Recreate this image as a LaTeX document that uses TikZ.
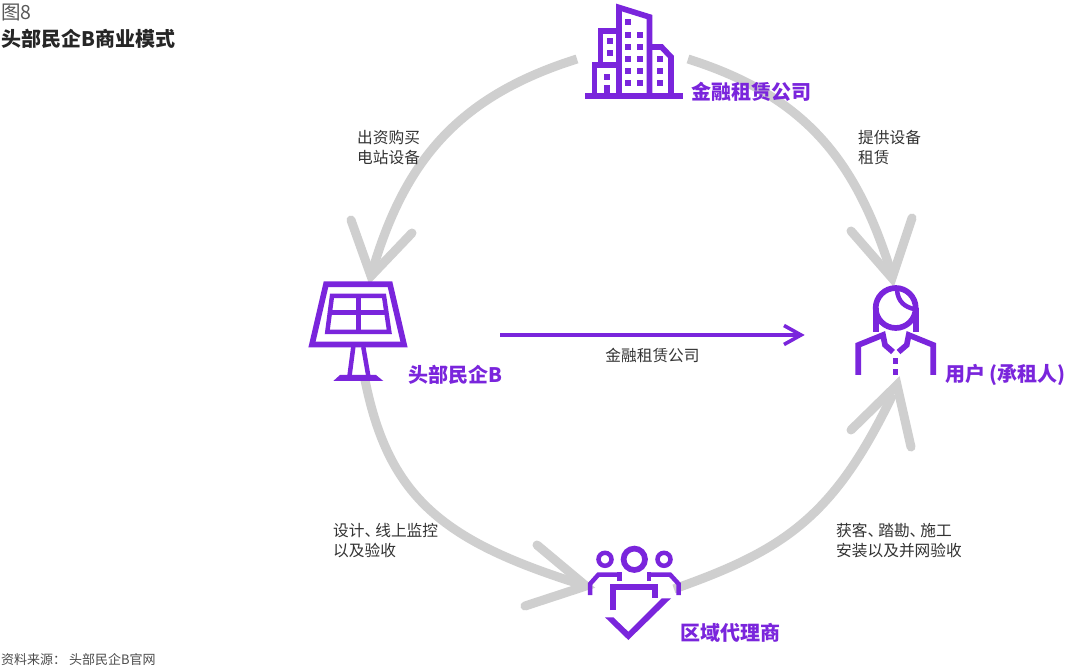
\documentclass[tikz,border=0pt]{standalone}
\usepackage{fontspec}
\setmainfont{Noto Sans CJK SC}
\usetikzlibrary{arrows.meta}
\definecolor{vio}{HTML}{7A25DC}
\definecolor{arcgray}{HTML}{CFCFCF}
\definecolor{txt}{HTML}{333333}
\tikzset{
 ring/.style={draw=arcgray,line width=9pt,line cap=round,line join=miter},
 ringarc/.style={draw=arcgray,line width=9pt,line cap=butt},
 ico/.style={draw=vio,line width=5.7pt,line join=miter},
 icothin/.style={draw=vio,line width=4.5pt},
 lab/.style={font=\fontsize{20}{20}\selectfont\bfseries,text=vio,inner sep=0pt,anchor=west},
 captext/.style={font=\fontsize{15.7}{20}\selectfont,text=txt,inner sep=0pt,anchor=north west,align=left},
 iconbox/.style={inner sep=0pt,draw=none}
}
\newcommand{\dun}{、\hspace{-5pt}}
\begin{document}
\begin{tikzpicture}[x=1pt,y=-1pt]
\useasboundingbox (0,0) rectangle (1080,668);
\fill[white] (0,0) rectangle (1080,668);
% named anchors of the cycle
\coordinate (finL) at (577,59);
\coordinate (finR) at (688,59);
\coordinate (panelT) at (371,276);
\coordinate (panelTa) at (372,272);
\coordinate (panelB) at (365,380);
\coordinate (userT) at (892,278);
\coordinate (userTa) at (891,272);
\coordinate (userB) at (893,394);
\coordinate (userTip) at (897,385);
\coordinate (agL) at (586,586);
\coordinate (agR) at (674,589);
\coordinate (b1a) at (351,220);\coordinate (b1b) at (412,233);
\coordinate (b2a) at (851,231);\coordinate (b2b) at (912,218);
\coordinate (b3a) at (537,545);\coordinate (b3b) at (525,606);
\coordinate (b4a) at (851,430);\coordinate (b4b) at (911,447);
% grey cycle
\draw[ringarc] (finL) .. controls (456,97) and (404,163) .. (panelTa);
\draw[ringarc] (finR) .. controls (808.6,97) and (857,164) .. (userTa);
\draw[ringarc] (panelB) .. controls (389,499) and (444,542) .. (agL);
\draw[ringarc] (agR) .. controls (784.5,550) and (834,517) .. (userB);
\draw[ring] (b1a) -- (panelT) -- (b1b);
\draw[ring] (b2a) -- (userT) -- (b2b);
\draw[ring] (b3a) -- (agL) -- (b3b);
\draw[ring] (b4a) -- (userTip) -- (b4b);
% building
\node[iconbox,minimum width=98pt,minimum height=95pt] (fin) at (634,52) {};
\fill[vio] (585,92.7) rectangle (683,99);
\draw[ico] (619,95) -- (619,7.5) -- (649.5,17) -- (649.5,95);
\draw[ico] (619,31) -- (600.5,31) -- (600.5,65) -- (619,65);
\draw[ico] (600.5,65) -- (594.5,65) -- (594.5,95);
\draw[ico] (649.5,47) -- (661.5,47) -- (671,57) -- (671,95);
\foreach \x/\y in {628/19.3,628/31.7,640/31.7,628/44,640/44,628/56,640/56,628/68.3,640/68.3,628/80,640/80,
 609.7/37.7,609.7/50,659.7/56,659.7/68.3,659.7/80.3,606.7/74,606.7/85,606.7/87}
 \fill[vio] (\x-3,\y) rectangle (\x+3,\y+6);
% panel
\node[iconbox,minimum width=98pt,minimum height=100pt] (panel) at (358,331) {};
\draw[ico] (326,284.3) -- (390,284.3) -- (404,344.5) -- (312,344.5) -- cycle;
\draw[icothin] (332,296) -- (384,296) -- (389.3,332) -- (327.3,332) -- cycle;
\draw[icothin] (358.3,296) -- (358.3,332) (329.5,312.7) -- (386.5,312.7);
\draw[icothin] (353.3,347) -- (349.5,376) (363.3,347) -- (368.3,376);
\fill[vio] (340,375) -- (376,375) -- (383.3,381) -- (333.3,381) -- cycle;
% user
\node[iconbox,minimum width=80pt,minimum height=92pt] (user) at (895,330) {};
\draw[ico] (895.7,308) circle[radius=20];
\draw[ico] (875.7,308) -- (875.7,332) (915.7,308) -- (915.7,332);
\draw[icothin] (897,290) .. controls (898,302) and (905,307) .. (914,309);
\draw[ico,line join=miter] (858.3,375) -- (858.3,345) -- (883,335) -- (885,345) -- (893,352);
\draw[ico,line join=miter] (933.3,375) -- (933.3,345) -- (908.7,335) -- (906.7,345) -- (898.5,352);
\fill[vio] (892.7,358.3) rectangle (898.3,364);
\fill[vio] (892.7,369.3) rectangle (898.3,375);
% agent
\node[iconbox,minimum width=95pt,minimum height=100pt] (agent) at (634,595) {};
\draw[ico] (634.3,559.3) circle[radius=10.7];
\draw[icothin] (605,559.3) circle[radius=6.5];
\draw[icothin] (664,559.3) circle[radius=6.5];
\draw[icothin] (621.7,574.5) -- (598.5,574.5) -- (590,584) -- (590,595);
\draw[icothin] (647,574.5) -- (670,574.5) -- (678.7,584) -- (678.7,595);
\draw[icothin] (619.7,572) -- (619.7,581);
\draw[icothin] (649,572) -- (649,581);
\draw[ico] (613,610) -- (613,586.7) -- (655,586.7) -- (655,598.3);
\fill[vio] (605,617.3) -- (613.3,617.3) -- (628.3,631.7) -- (661.7,598.3) -- (671,598.3) -- (628.3,640) -- cycle;
% horizontal arrow
\coordinate (mS) at (500,335);
\coordinate (mE) at (801,335);
\coordinate (mA) at (784,325.5);
\coordinate (mB) at (784,344.5);
\draw[draw=vio,line width=3.6pt] (mS) -- (mE);
\draw[draw=vio,line width=3.6pt,line join=miter] (mA) -- (mE) -- (mB);
% labels
\node[lab] (lfin) at (691,92) {金融租赁公司};
\node[lab] (lpanel) at (408,375) {头部民企B};
\node[lab] (luser) at (945,375) {用户 (承租人)};
\node[lab] (lagent) at (680,633) {区域代理商};
\node[captext] (c1) at (357,130) {出资购买\\电站设备};
\node[captext] (c2) at (858,130) {提供设备\\租赁};
\node[captext] (c3) at (333,523) {设计\dun 线上监控\\以及验收};
\node[captext] (c4) at (836,523) {获客\dun 踏勘\dun 施工\\安装以及并网验收};
\node[captext,anchor=center] (c5) at (652.5,355) {金融租赁公司};
\node[inner sep=0pt,anchor=west,font=\fontsize{19.5}{20}\selectfont,text=black!65] (t1) at (1,13) {图8};
\node[inner sep=0pt,anchor=west,font=\fontsize{20}{20}\selectfont\bfseries,text=black!85] (t2) at (1,39) {头部民企B商业模式};
\node[inner sep=0pt,anchor=west,font=\fontsize{13}{13}\selectfont,text=black!70] (src) at (1,660) {资料来源：\ 头部民企B官网};
\end{tikzpicture}
\end{document}
